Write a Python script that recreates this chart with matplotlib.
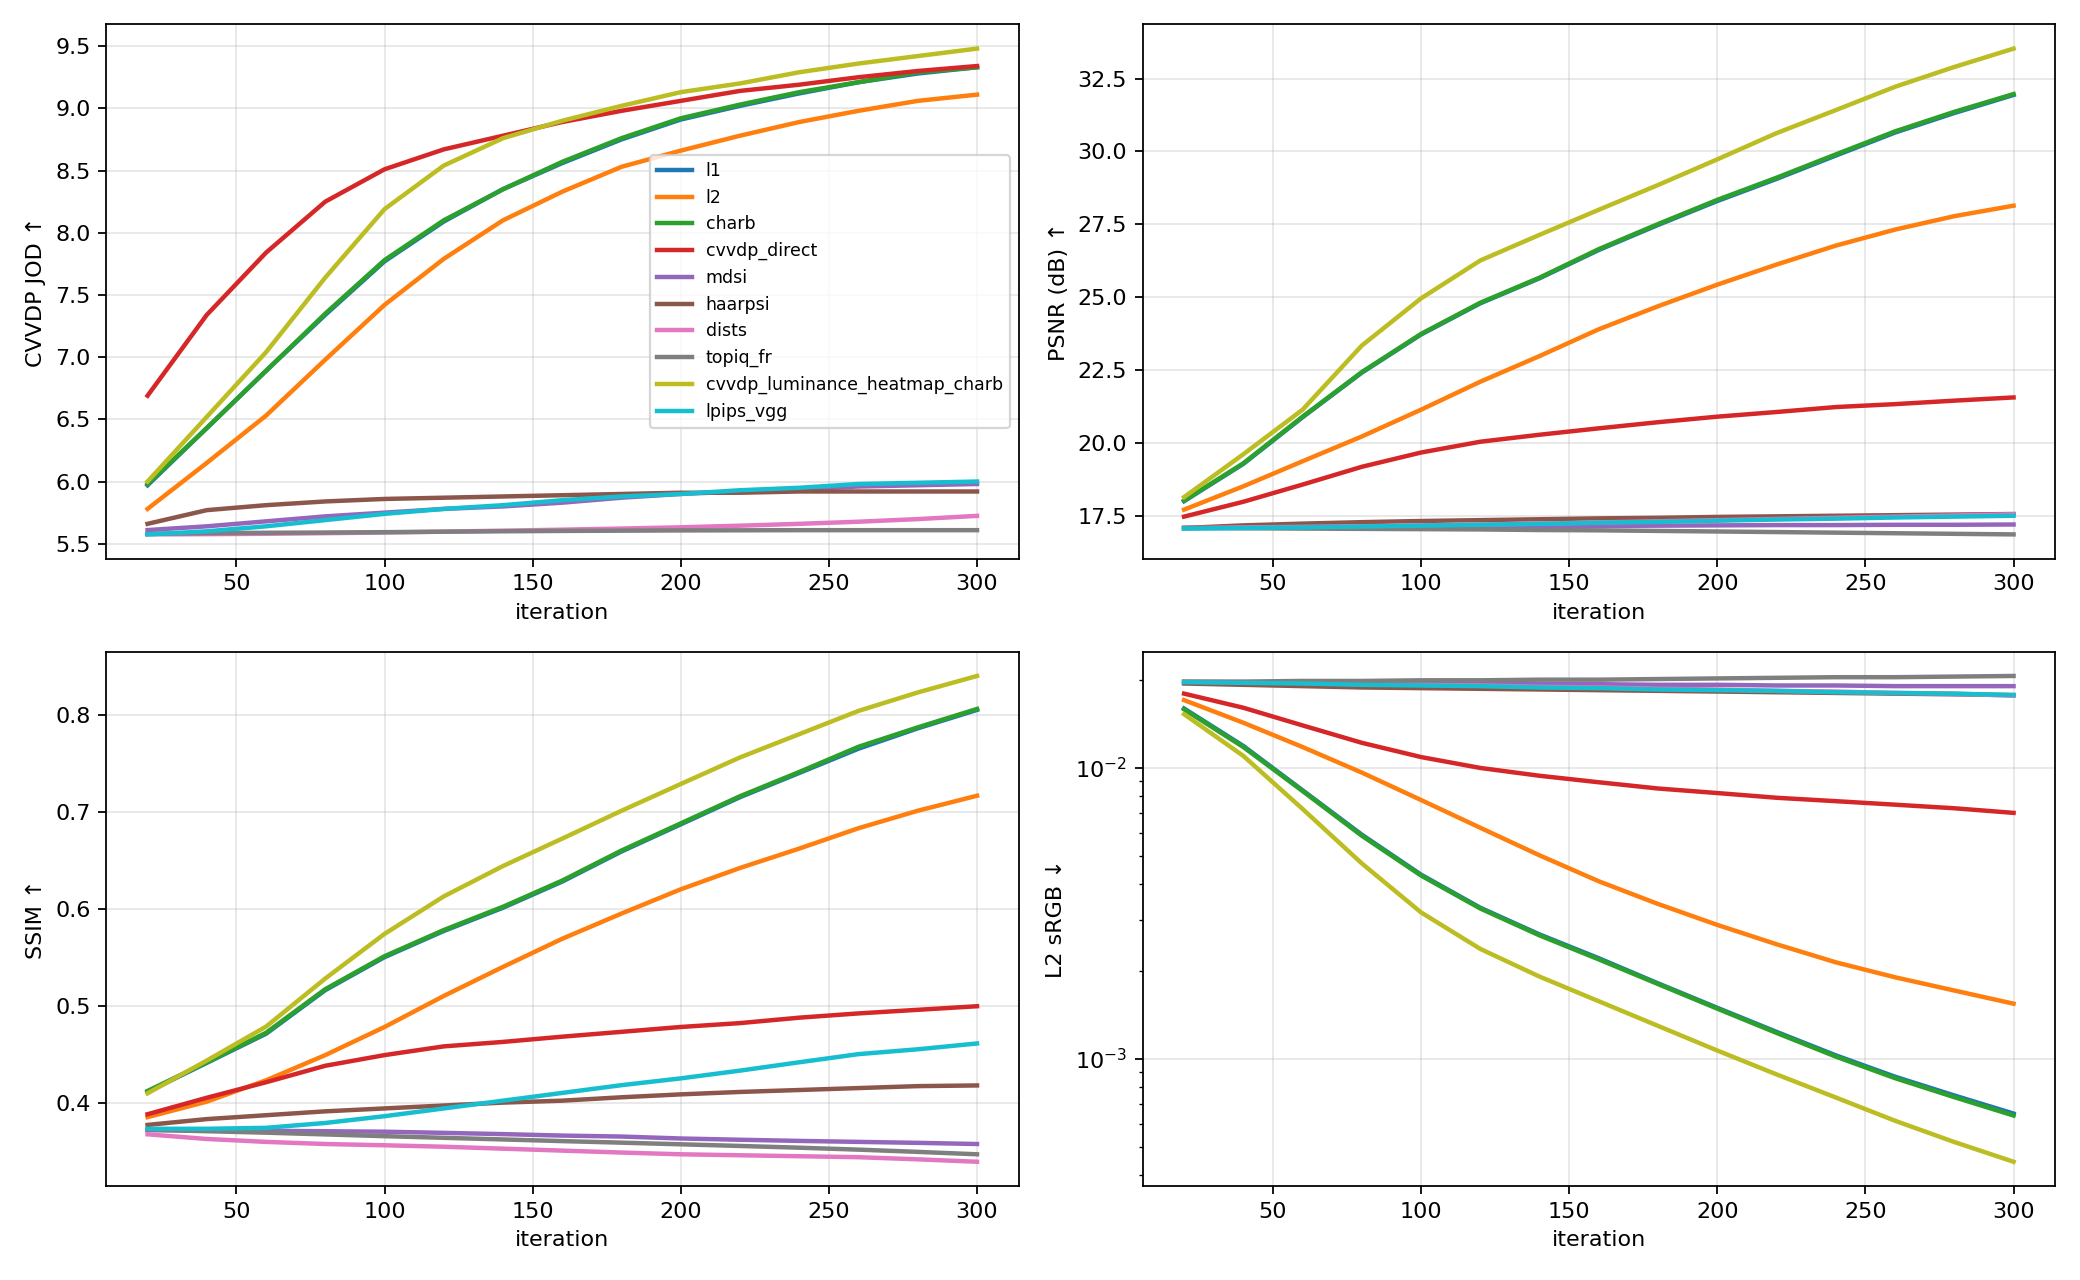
import matplotlib
matplotlib.use("Agg")
import matplotlib.pyplot as plt

iters = [20, 40, 60, 80, 100, 120, 140, 160, 180, 200, 220, 240, 260, 280, 300]
methods = ['l1', 'l2', 'charb', 'cvvdp_direct', 'mdsi', 'haarpsi', 'dists',
           'topiq_fr', 'cvvdp_luminance_heatmap_charb', 'lpips_vgg']

# CVVDP JOD
jod = {
    'l1': [5.97, 6.43, 6.89, 7.34, 7.77, 8.09, 8.35, 8.56, 8.75, 8.91, 9.02, 9.12, 9.21, 9.28, 9.33],
    'l2': [5.78, 6.15, 6.53, 6.98, 7.42, 7.79, 8.10, 8.33, 8.53, 8.66, 8.78, 8.89, 8.98, 9.06, 9.11],
    'charb': [5.98, 6.43, 6.89, 7.35, 7.78, 8.10, 8.35, 8.57, 8.76, 8.92, 9.03, 9.13, 9.21, 9.29, 9.33],
    'cvvdp_direct': [6.69, 7.34, 7.84, 8.25, 8.51, 8.67, 8.78, 8.89, 8.98, 9.06, 9.14, 9.19, 9.25, 9.30, 9.34],
    'mdsi': [5.61, 5.64, 5.68, 5.72, 5.75, 5.78, 5.80, 5.83, 5.87, 5.90, 5.92, 5.94, 5.96, 5.97, 5.98],
    'haarpsi': [5.66, 5.77, 5.81, 5.84, 5.86, 5.87, 5.88, 5.89, 5.90, 5.91, 5.91, 5.92, 5.92, 5.92, 5.92],
    'dists': [5.575, 5.577, 5.58, 5.585, 5.59, 5.597, 5.605, 5.613, 5.622, 5.632, 5.645, 5.66, 5.677, 5.698, 5.724],
    'topiq_fr': [5.58, 5.585, 5.588, 5.59, 5.593, 5.597, 5.60, 5.603, 5.605, 5.607, 5.608, 5.609, 5.609, 5.609, 5.609],
    'cvvdp_luminance_heatmap_charb': [6.00, 6.52, 7.04, 7.64, 8.19, 8.54, 8.76, 8.90, 9.02, 9.13, 9.20, 9.29, 9.36, 9.42, 9.48],
    'lpips_vgg': [5.575, 5.60, 5.64, 5.69, 5.74, 5.78, 5.81, 5.85, 5.88, 5.90, 5.93, 5.95, 5.98, 5.99, 6.00],
}

# PSNR (dB)
psnr = {
    'l1': [18.00, 19.28, 20.88, 22.41, 23.72, 24.79, 25.65, 26.62, 27.48, 28.30, 29.06, 29.86, 30.65, 31.32, 31.94],
    'l2': [17.71, 18.51, 19.37, 20.22, 21.14, 22.10, 22.98, 23.90, 24.69, 25.43, 26.12, 26.77, 27.32, 27.78, 28.14],
    'charb': [18.02, 19.30, 20.90, 22.43, 23.74, 24.81, 25.67, 26.65, 27.51, 28.34, 29.10, 29.90, 30.69, 31.36, 31.97],
    'cvvdp_direct': [17.47, 17.98, 18.57, 19.18, 19.67, 20.04, 20.28, 20.50, 20.71, 20.90, 21.06, 21.23, 21.33, 21.45, 21.56],
    'mdsi': [17.08, 17.09, 17.10, 17.11, 17.12, 17.13, 17.14, 17.15, 17.16, 17.17, 17.18, 17.18, 17.19, 17.19, 17.20],
    'haarpsi': [17.08, 17.17, 17.23, 17.28, 17.32, 17.35, 17.38, 17.41, 17.43, 17.46, 17.48, 17.50, 17.52, 17.54, 17.56],
    'dists': [17.08, 17.10, 17.12, 17.14, 17.17, 17.20, 17.23, 17.27, 17.31, 17.35, 17.39, 17.43, 17.47, 17.51, 17.55],
    'topiq_fr': [17.08, 17.07, 17.06, 17.05, 17.04, 17.03, 17.01, 17.00, 16.98, 16.96, 16.94, 16.92, 16.90, 16.88, 16.86],
    'cvvdp_luminance_heatmap_charb': [18.14, 19.61, 21.14, 23.34, 24.96, 26.26, 27.14, 28.00, 28.85, 29.73, 30.63, 31.42, 32.22, 32.90, 33.53],
    'lpips_vgg': [17.06, 17.08, 17.10, 17.13, 17.16, 17.19, 17.22, 17.26, 17.29, 17.33, 17.37, 17.40, 17.44, 17.47, 17.50],
}

# SSIM
ssim = {
    'l1': [0.411, 0.441, 0.471, 0.516, 0.550, 0.577, 0.601, 0.628, 0.659, 0.687, 0.715, 0.740, 0.765, 0.786, 0.805],
    'l2': [0.385, 0.401, 0.423, 0.449, 0.478, 0.510, 0.540, 0.569, 0.595, 0.620, 0.642, 0.662, 0.683, 0.701, 0.7165],
    'charb': [0.412, 0.4416, 0.472, 0.517, 0.551, 0.578, 0.602, 0.629, 0.660, 0.688, 0.716, 0.741, 0.767, 0.787, 0.806],
    'cvvdp_direct': [0.388, 0.405, 0.421, 0.438, 0.449, 0.458, 0.4626, 0.468, 0.473, 0.478, 0.482, 0.4876, 0.492, 0.4957, 0.4994],
    'mdsi': [0.3717, 0.3713, 0.3709, 0.3705, 0.370, 0.3688, 0.3675, 0.366, 0.365, 0.363, 0.3617, 0.3605, 0.3595, 0.3585, 0.3573],
    'haarpsi': [0.377, 0.383, 0.387, 0.391, 0.394, 0.397, 0.400, 0.402, 0.4055, 0.4085, 0.411, 0.413, 0.415, 0.417, 0.4177],
    'dists': [0.3673, 0.3625, 0.3595, 0.3573, 0.356, 0.3545, 0.3525, 0.3505, 0.3485, 0.3467, 0.3457, 0.3447, 0.3437, 0.3415, 0.339],
    'topiq_fr': [0.372, 0.3705, 0.369, 0.3672, 0.3654, 0.3637, 0.362, 0.3603, 0.3587, 0.357, 0.3553, 0.3535, 0.3515, 0.3492, 0.3467],
    'cvvdp_luminance_heatmap_charb': [0.4096, 0.4434, 0.4784, 0.528, 0.574, 0.6127, 0.644, 0.6723, 0.701, 0.7286, 0.756, 0.780, 0.804, 0.823, 0.840],
    'lpips_vgg': [0.373, 0.373, 0.374, 0.379, 0.386, 0.394, 0.402, 0.410, 0.418, 0.425, 0.433, 0.4416, 0.450, 0.455, 0.461],
}

# L2 sRGB (log scale)
l2srgb = {
    'l1': [0.0160, 0.0119, 0.00838, 0.00590, 0.00430, 0.00331, 0.00268, 0.00222, 0.00182, 0.00150, 0.00124, 0.00103, 0.00087, 0.00075, 0.00065],
    'l2': [0.0171, 0.0143, 0.0118, 0.00964, 0.00776, 0.00623, 0.00501, 0.00408, 0.00341, 0.00289, 0.00248, 0.00215, 0.00191, 0.00172, 0.00155],
    'charb': [0.0159, 0.0118, 0.00833, 0.00585, 0.00427, 0.00329, 0.00266, 0.00220, 0.00181, 0.00149, 0.00123, 0.00102, 0.00086, 0.00074, 0.00064],
    'cvvdp_direct': [0.0180, 0.0161, 0.0140, 0.0122, 0.0109, 0.0100, 0.0094, 0.00893, 0.0085, 0.0082, 0.0079, 0.00769, 0.00748, 0.00727, 0.00701],
    'mdsi': [0.0197, 0.0197, 0.0196, 0.0196, 0.0195, 0.0195, 0.0194, 0.0194, 0.0193, 0.0193, 0.0192, 0.0192, 0.0191, 0.0191, 0.0191],
    'haarpsi': [0.0195, 0.0193, 0.0191, 0.0189, 0.0188, 0.0187, 0.0186, 0.0185, 0.0184, 0.0183, 0.0182, 0.0181, 0.0180, 0.0179, 0.0178],
    'dists': [0.0198, 0.0197, 0.0196, 0.0194, 0.0193, 0.0192, 0.0190, 0.0189, 0.0187, 0.0186, 0.0184, 0.0183, 0.0181, 0.0180, 0.0177],
    'topiq_fr': [0.0198, 0.0198, 0.0199, 0.0199, 0.0200, 0.0200, 0.0201, 0.0201, 0.0202, 0.0203, 0.0204, 0.0205, 0.0205, 0.0206, 0.0207],
    'cvvdp_luminance_heatmap_charb': [0.0153, 0.0110, 0.00723, 0.00470, 0.00319, 0.00239, 0.00192, 0.00158, 0.00130, 0.00107, 0.000886, 0.000738, 0.000614, 0.000519, 0.000444],
    'lpips_vgg': [0.0197, 0.0196, 0.0195, 0.0193, 0.0192, 0.0191, 0.0189, 0.0188, 0.0186, 0.0185, 0.0184, 0.0182, 0.0181, 0.0180, 0.0178],
}

panels = [(jod, 'CVVDP JOD ↑', False),
          (psnr, 'PSNR (dB) ↑', False),
          (ssim, 'SSIM ↑', False),
          (l2srgb, 'L2 sRGB ↓', True)]

fig, axes = plt.subplots(2, 2, figsize=(13, 8), dpi=160)

for ax, (data, ylabel, logy) in zip(axes.flat, panels):
    for m in methods:
        ax.plot(iters, data[m], lw=2, label=m)
    if logy:
        ax.set_yscale('log')
    ax.set_xlabel('iteration')
    ax.set_ylabel(ylabel)
    ax.grid(True, alpha=0.3)

axes[0, 0].legend(loc='center right', fontsize=7.8)

plt.subplots_adjust(left=0.051, right=0.988, top=0.981, bottom=0.0734,
                    wspace=0.136, hspace=0.174)
plt.savefig('out.png')
